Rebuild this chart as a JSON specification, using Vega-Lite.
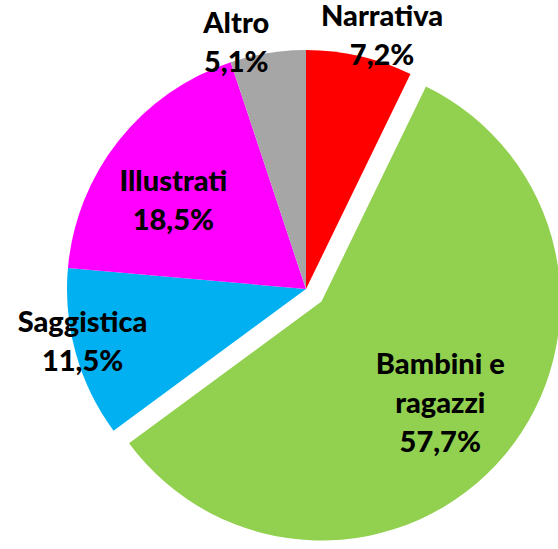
{
  "$schema": "https://vega.github.io/schema/vega-lite/v6.json",
  "width": 504,
  "height": 520,
  "autosize": "none",
  "padding": {"left": 54, "top": 29, "right": 0, "bottom": 0},
  "background": "white",
  "config": {"view": {"stroke": null}, "text": {"font": "Lato", "fontWeight": 900, "fontSize": 29, "lineHeight": 39, "lineBreak": "\n", "align": "center", "baseline": "middle"}},
  "data": {
    "values": [
      {"cat": "Narrativa", "value": 7.2, "ord": 1, "label": "Narrativa\n7,2%"},
      {"cat": "Bambini e ragazzi", "value": 57.7, "ord": 2, "label": "Bambini e\nragazzi\n57,7%"},
      {"cat": "Saggistica", "value": 11.5, "ord": 3, "label": "Saggistica\n11,5%"},
      {"cat": "Illustrati", "value": 18.5, "ord": 4, "label": "Illustrati\n18,5%"},
      {"cat": "Altro", "value": 5.1, "ord": 5, "label": "Altro\n5,1%"}
    ]
  },
  "encoding": {
    "theta": {"field": "value", "type": "quantitative", "stack": true},
    "order": {"field": "ord", "type": "quantitative"},
    "color": {
      "field": "cat",
      "type": "nominal",
      "legend": null,
      "scale": {
        "domain": ["Narrativa", "Bambini e ragazzi", "Saggistica", "Illustrati", "Altro"],
        "range": ["#FF0000", "#92D050", "#00B0F0", "#FF00FF", "#A6A6A6"]
      }
    }
  },
  "layer": [
    {
      "mark": {"type": "arc", "radius": 239},
      "encoding": {
        "opacity": {"condition": {"test": "datum.cat === 'Bambini e ragazzi'", "value": 0}, "value": 1}
      }
    },
    {
      "mark": {"type": "arc", "radius": 239, "xOffset": 15.5, "yOffset": 12.5},
      "encoding": {
        "opacity": {"condition": {"test": "datum.cat === 'Bambini e ragazzi'", "value": 1}, "value": 0}
      }
    },
    {
      "mark": {"type": "text", "radius": 259, "dx": 18, "dy": -19.5},
      "encoding": {
        "color": {"value": "black"},
        "text": {"condition": {"test": "datum.cat === 'Narrativa'", "field": "label"}, "value": ""}
      }
    },
    {
      "mark": {"type": "text", "radius": 249, "dx": -30, "dy": -19.5},
      "encoding": {
        "color": {"value": "black"},
        "text": {"condition": {"test": "datum.cat === 'Altro'", "field": "label"}, "value": ""}
      }
    },
    {
      "mark": {"type": "text", "radius": 150, "dx": -15, "dy": -13.5},
      "encoding": {
        "color": {"value": "black"},
        "text": {"condition": {"test": "datum.cat === 'Illustrati'", "field": "label"}, "value": ""}
      }
    },
    {
      "mark": {"type": "text", "radius": 230, "dx": -2, "dy": -28.5},
      "encoding": {
        "color": {"value": "black"},
        "text": {"condition": {"test": "datum.cat === 'Saggistica'", "field": "label"}, "value": ""}
      }
    },
    {
      "mark": {"type": "text", "radius": 176, "dx": -1, "dy": -37},
      "encoding": {
        "color": {"value": "black"},
        "text": {"condition": {"test": "datum.cat === 'Bambini e ragazzi'", "field": "label"}, "value": ""}
      }
    }
  ]
}
